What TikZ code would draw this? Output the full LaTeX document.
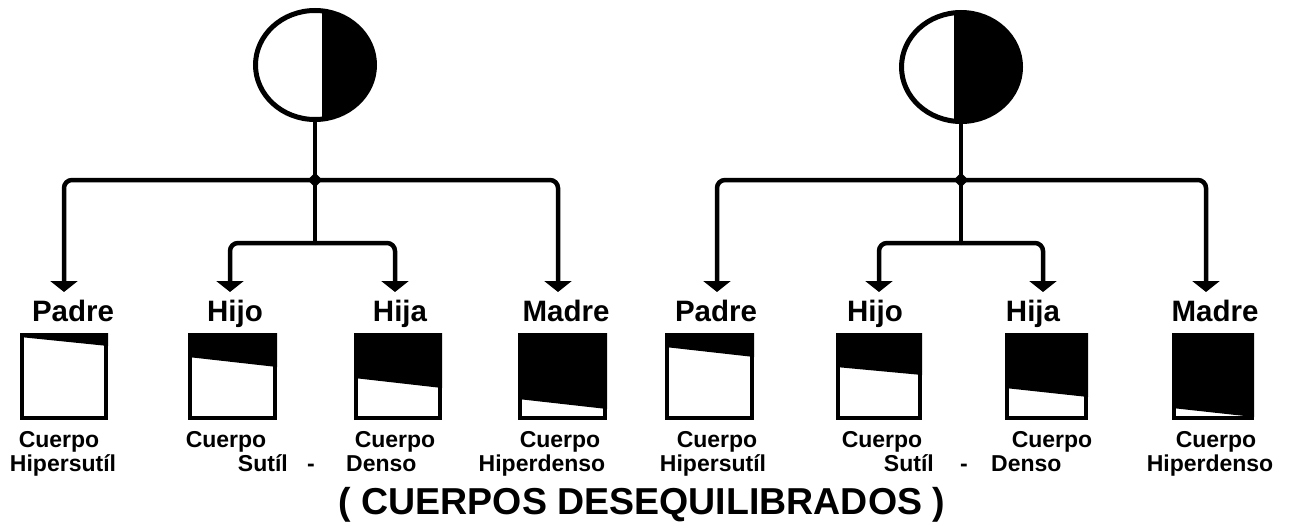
\documentclass[tikz,border=0pt]{standalone}
\usepackage{fontspec}
\setmainfont{Liberation Sans}
\usetikzlibrary{shapes.geometric,arrows.meta}
\newcommand\bodybox[4]{% x1 x2 yL yR
  \fill[black] (#1,333) -- (#2,333) -- (#2,#4) -- (#1,#3) -- cycle;
  \draw[boxline] (#1+2,335) rectangle (#2-2,418);}
\begin{document}
\begin{tikzpicture}[x=1pt,y=-1pt,
  conn/.style={line width=4.5pt, -{Triangle[width=27pt,length=11pt]}, rounded corners=8pt},
  wire/.style={line width=4.5pt},
  junc/.style={diamond, fill=black, inner sep=0pt, minimum size=15pt},
  soul/.style={ellipse, draw, line width=5pt, minimum width=119pt, minimum height=109pt, inner sep=0pt},
  soulL/.style={soul, path picture={
    \fill[black] ([xshift=7pt]path picture bounding box.north) rectangle (path picture bounding box.south east);}},
  soulR/.style={soul, path picture={
    \fill[black] ([xshift=-7pt]path picture bounding box.north) rectangle (path picture bounding box.south east);}},
  rel/.style={font=\fontsize{29.5}{36}\selectfont\bfseries, anchor=base, inner sep=0pt},
  bodytxt/.style={font=\fontsize{23}{27}\selectfont\bfseries, inner sep=0pt},
  ttl/.style={font=\fontsize{37.5}{44}\selectfont\bfseries, anchor=base, inner sep=0pt},
  boxline/.style={draw, line width=4pt}
]
\useasboundingbox[fill=white] (0,0) rectangle (1290,522);

% ---------- left family ----------
\node[soulL] (c1) at (315,65) {};
\coordinate (j1) at (315,180);
\coordinate (k1) at (315,243);
\coordinate (e1) at (64,292);
\coordinate (e2) at (230,292);
\coordinate (e3) at (395,292);
\coordinate (e4) at (558,292);
\draw[wire] (c1.south) -- (j1);
\draw[conn] (j1) -| (e1);
\draw[conn] (j1) -| (e4);
\draw[wire] (j1) -- (k1);
\draw[conn] (k1) -| (e2);
\draw[conn] (k1) -| (e3);
\node[junc] (d1) at (j1) {};

\node[rel] (p1) at (73,321) {Padre};
\node[rel] (h1) at (235,321) {Hijo};
\node[rel] (a1) at (400,321) {Hija};
\node[rel] (m1) at (566,321) {Madre};

\bodybox{20}{108}{337}{346}
\bodybox{188}{277}{357}{367}
\bodybox{354}{442}{378}{388}
\bodybox{518}{607}{399}{409}

\node[bodytxt, anchor=base] (cp1) at (59,447) {Cuerpo};
\node[bodytxt, anchor=base] (cp2) at (226,447) {Cuerpo};
\node[bodytxt, anchor=base] (cp3) at (395,447) {Cuerpo};
\node[bodytxt, anchor=base] (cp4) at (560,447) {Cuerpo};
\node[bodytxt, anchor=base] (n1) at (63,471) {Hipersutíl};
\node[bodytxt, anchor=base east] (n2) at (288,471) {Sutíl};
\node[bodytxt, anchor=base] (s1) at (311,471) {-};
\node[bodytxt, anchor=base west] (n3) at (346,471) {Denso};
\node[bodytxt, anchor=base] (n4) at (542,471) {Hiperdenso};

% ---------- right family ----------
\node[soulR] (c2) at (961,67) {};
\coordinate (j2) at (961,180);
\coordinate (k2) at (961,243);
\coordinate (e5) at (717,292);
\coordinate (e6) at (879,292);
\coordinate (e7) at (1043,292);
\coordinate (e8) at (1206,292);
\draw[wire] (c2.south) -- (j2);
\draw[conn] (j2) -| (e5);
\draw[conn] (j2) -| (e8);
\draw[wire] (j2) -- (k2);
\draw[conn] (k2) -| (e6);
\draw[conn] (k2) -| (e7);
\node[junc] (d2) at (j2) {};

\node[rel] (p2) at (716,321) {Padre};
\node[rel] (h2) at (875,321) {Hijo};
\node[rel] (a2) at (1033,321) {Hija};
\node[rel] (m2) at (1215,321) {Madre};

\bodybox{665}{754}{347}{357}
\bodybox{836}{922}{367}{375}
\bodybox{1005}{1088}{388}{397}
\bodybox{1172}{1254}{408}{417}

\node[bodytxt, anchor=base] (cp5) at (717,447) {Cuerpo};
\node[bodytxt, anchor=base] (cp6) at (882,447) {Cuerpo};
\node[bodytxt, anchor=base] (cp7) at (1052,447) {Cuerpo};
\node[bodytxt, anchor=base] (cp8) at (1216,447) {Cuerpo};
\node[bodytxt, anchor=base] (n5) at (713,471) {Hipersutíl};
\node[bodytxt, anchor=base east] (n6) at (934,471) {Sutíl};
\node[bodytxt, anchor=base] (s2) at (964,471) {-};
\node[bodytxt, anchor=base west] (n7) at (991,471) {Denso};
\node[bodytxt, anchor=base] (n8) at (1210,471) {Hiperdenso};

% ---------- title ----------
\node[ttl] (t) at (642,514) {( CUERPOS DESEQUILIBRADOS )};
\end{tikzpicture}
\end{document}
